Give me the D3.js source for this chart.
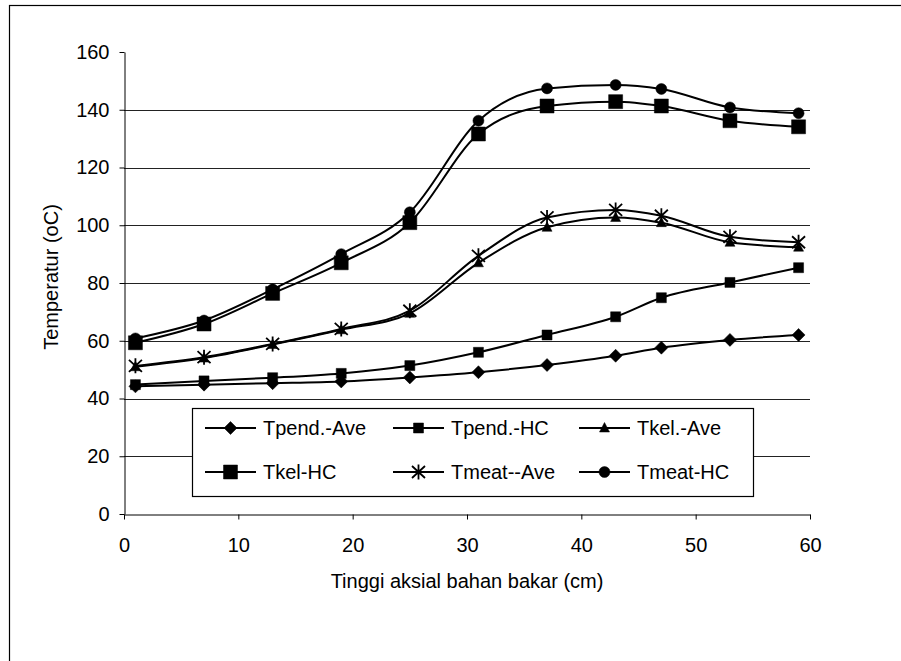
<!DOCTYPE html>
<html>
<head>
<meta charset="utf-8">
<script src="https://cdn.jsdelivr.net/npm/d3@7"></script>
<style>
  body { margin: 0; background: #fff; }
  text { font-family: 'Liberation Sans', Arial, sans-serif; }
</style>
</head>
<body>
<div id="viz"></div>
<script>
var width = 901,
    height = 661;

// data
var tinggi = [1, 7, 13, 19, 25, 31, 37, 43, 47, 53, 59];
var tpendAve = [44.2, 44.8, 45.3, 45.9, 47.3, 49.1, 51.6, 54.8, 57.6, 60.3, 62.0];
var tpendHC = [44.8, 46.1, 47.2, 48.7, 51.4, 56.0, 62.0, 68.3, 74.9, 80.2, 85.3];
var tkelAve = [51.0, 54.0, 58.7, 63.8, 69.5, 87.0, 99.3, 102.7, 100.9, 94.1, 92.4];
var tkelHC = [59.3, 65.8, 76.4, 87.0, 100.9, 131.6, 141.3, 142.8, 141.3, 136.2, 134.1];
var tmeatAve = [51.3, 54.3, 58.9, 64.1, 70.4, 89.4, 102.7, 105.3, 103.3, 96.0, 94.1];
var tmeatHC = [60.8, 67.0, 77.8, 90.0, 104.5, 136.2, 147.4, 148.6, 147.2, 140.8, 138.8];

var seriesNames = ['Tpend.-Ave', 'Tpend.-HC', 'Tkel.-Ave', 'Tkel-HC', 'Tmeat--Ave', 'Tmeat-HC'];
var seriesValues = [tpendAve, tpendHC, tkelAve, tkelHC, tmeatAve, tmeatHC];
var seriesMarkers = ['diamond', 'square', 'triangle', 'bigsquare', 'star', 'circle'];

var xTicks = [0, 10, 20, 30, 40, 50, 60];
var yTicks = [0, 20, 40, 60, 80, 100, 120, 140, 160];

var plotLeft = 124, plotRight = 810, plotTop = 52, plotBottom = 514;
var fontSize = '20px';

var svg = d3.select('#viz')
  .append('svg')
  .attr('width', width)
  .attr('height', height)
  .style('background', '#fff');

// marco exterior
svg.append('rect')
  .attr('x', 9.5)
  .attr('y', 5.5)
  .attr('width', 1000)
  .attr('height', 1000)
  .style('fill', 'none')
  .attr('stroke', '#000')
  .attr('stroke-width', 1.2);

var x = d3.scaleLinear().domain([0, 60]).range([plotLeft, plotRight]);
var y = d3.scaleLinear().domain([0, 160]).range([plotBottom, plotTop]);

// grid
svg.append('g')
  .selectAll('line')
  .data(yTicks.filter(function(d) { return d > 0 && d < 160; }))
  .enter().append('line')
  .attr('x1', plotLeft)
  .attr('x2', plotRight)
  .attr('y1', function(d) { return Math.round(y(d)) + 0.5; })
  .attr('y2', function(d) { return Math.round(y(d)) + 0.5; })
  .attr('stroke', '#222')
  .attr('stroke-width', 1);

var yAxis = svg.append('g')
  .attr('transform', 'translate(' + (plotLeft + 0.5) + ',0)')
  .call(d3.axisLeft(y).tickValues(yTicks).tickSize(5).tickSizeOuter(0).tickPadding(10));

var xAxis = svg.append('g')
  .attr('transform', 'translate(0,' + (plotBottom + 0.5) + ')')
  .call(d3.axisBottom(x).tickValues(xTicks).tickSize(5).tickSizeOuter(0).tickPadding(18));

svg.selectAll('.tick text')
  .style('font-size', fontSize)
  .style('font-family', "'Liberation Sans', Arial, sans-serif")
  .attr('fill', '#000');
svg.selectAll('.domain, .tick line').attr('stroke', '#000');

// titulos
svg.append('text')
  .attr('transform', 'translate(51,277) rotate(-90)')
  .attr('text-anchor', 'middle')
  .attr('dy', '0.35em')
  .style('font-size', fontSize)
  .text('Temperatur (oC)');

svg.append('text')
  .attr('x', 467)
  .attr('y', 588)
  .attr('text-anchor', 'middle')
  .style('font-size', fontSize)
  .text('Tinggi aksial bahan bakar (cm)');

//marcadores
function markerPath(type) {
  if (type == 'diamond') return 'M0,-6.5L6.5,0L0,6.5L-6.5,0Z';
  if (type == 'square') return 'M-5,-5H5V5H-5Z';
  if (type == 'bigsquare') return 'M-7,-7H7V7H-7Z';
  if (type == 'triangle') return 'M0,-5.5L5,4L-5,4Z';
  if (type == 'circle') return d3.symbol().type(d3.symbolCircle).size(Math.PI * 5.5 * 5.5)();
  if (type == 'star') return 'M0,-7.5V7.5M-6.5,-6L6.5,6M-6.5,6L6.5,-6';
}

function drawMarker(g, type, cx, cy) {
  g.append('path')
    .attr('d', markerPath(type))
    .attr('transform', 'translate(' + cx + ',' + cy + ')')
    .style('fill', type == 'star' ? 'none' : '#000')
    .attr('stroke', '#000')
    .attr('stroke-width', type == 'star' ? 1.8 : 0.5);
}

var line = d3.line()
  .x(function(d, i) { return x(tinggi[i]); })
  .y(function(d) { return y(d); })
  .curve(d3.curveMonotoneX);

var plot = svg.append('g').attr('class', 'seccion');

seriesValues.forEach(function(vals, k) {
  plot.append('path')
    .attr('d', line(vals))
    .style('fill', 'none')
    .attr('stroke', '#000')
    .attr('stroke-width', 2);
  vals.forEach(function(v, i) {
    drawMarker(plot, seriesMarkers[k], x(tinggi[i]), y(v));
  });
});

// leyenda
var legend = svg.append('g');
legend.append('rect')
  .attr('x', 192.5)
  .attr('y', 408.5)
  .attr('width', 561)
  .attr('height', 88)
  .style('fill', '#fff')
  .attr('stroke', '#000')
  .attr('stroke-width', 1.2);

var colX = [205, 393, 579];
var rowY = [428, 472];

seriesNames.forEach(function(name, k) {
  var lx = colX[k % 3], ly = rowY[Math.floor(k / 3)];
  legend.append('line')
    .attr('x1', lx)
    .attr('x2', lx + 51)
    .attr('y1', ly)
    .attr('y2', ly)
    .attr('stroke', '#000')
    .attr('stroke-width', 2);
  drawMarker(legend, seriesMarkers[k], lx + 25.5, ly);
  legend.append('text')
    .attr('x', lx + 58)
    .attr('y', ly)
    .attr('dy', '0.35em')
    .style('font-size', fontSize)
    .text(name);
});
</script>
</body>
</html>
